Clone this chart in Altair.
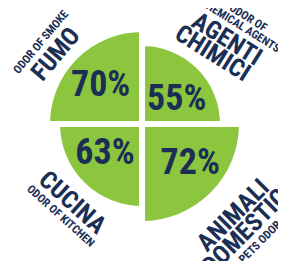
import math
import altair as alt
import pandas as pd

# ---------------- data ----------------
CATEGORIES = ["AGENTI CHIMICI", "ANIMALI DOMESTICI", "CUCINA", "FUMO"]
VALUES = [55, 72, 63, 70]
PCT_LABELS = ["55%", "72%", "63%", "70%"]
TITLE_LINES = [["AGENTI", "CHIMICI"], ["ANIMALI", "DOMESTICI"], ["CUCINA"], ["FUMO"]]
SUBTITLE_LINES = [["ODOR OF", "CHEMICAL AGENTS"], ["PETS ODOR"], ["ODOR OF KITCHEN"], ["ODOR OF SMOKE"]]

# ---------------- style ----------------
GREEN = "#8cc63f"
NAVY = "#1b2f55"
FONT = ("Noto Sans ExtraCondensed, Noto Sans Condensed, Roboto Condensed, "
        "Liberation Sans Narrow, DejaVu Sans Condensed, sans-serif")
GAP = 6                      # white gap between quarters
STROKE_HALF = GAP / 2
N = len(CATEGORIES)
STEP_DEG = 360 / N
BIG_SIZE, SMALL_SIZE, PCT_SIZE = 25, 11.5, 36
BIG_STEP, SMALL_STEP, BLOCK_GAP = 20, 11, 3
PCT_OFFSET = -35
LABEL_GAP = {"AGENTI CHIMICI": 12, "ANIMALI DOMESTICI": 22, "CUCINA": 13, "FUMO": 9}
LABEL_ANGLE = {"AGENTI CHIMICI": 32, "ANIMALI DOMESTICI": 315, "CUCINA": 42, "FUMO": 310}
LABEL_NUDGE = {"AGENTI CHIMICI": 0, "ANIMALI DOMESTICI": 0, "CUCINA": -3.5, "FUMO": -6}
PCT_NUDGE = {"AGENTI CHIMICI": 9, "ANIMALI DOMESTICI": -6, "CUCINA": 7, "FUMO": -1.5}

slices = pd.DataFrame({
    "category": CATEGORIES,
    "value": VALUES,
    "pct": PCT_LABELS,
    "idx": list(range(N)),
})
slices["tpos"] = [i + 0.5 + PCT_NUDGE[c] / STEP_DEG for i, c in enumerate(CATEGORIES)]

rows = []
for i, cat in enumerate(CATEGORIES):
    mid = math.radians((i + 0.5) * STEP_DEG)
    top = math.cos(mid) > 0
    big = list(reversed(TITLE_LINES[i])) if top else list(TITLE_LINES[i])
    small = list(reversed(SUBTITLE_LINES[i])) if top else list(SUBTITLE_LINES[i])
    cum = LABEL_GAP[cat]
    tpos = i + 0.5 + LABEL_NUDGE[cat] / STEP_DEG
    for line in big:
        rows.append({"category": cat, "value": VALUES[i], "text": line, "kind": "big",
                     "off": cum + BIG_STEP / 2 - STROKE_HALF, "tpos": tpos, "ang": LABEL_ANGLE[cat]})
        cum += BIG_STEP
    cum += BLOCK_GAP
    for line in small:
        rows.append({"category": cat, "value": VALUES[i], "text": line, "kind": "small",
                     "off": cum + SMALL_STEP / 2 - STROKE_HALF, "tpos": tpos, "ang": LABEL_ANGLE[cat]})
        cum += SMALL_STEP
labels = pd.DataFrame(rows)

radius_scale = alt.Scale(type="pow", exponent=10, zero=False,
                         domain=[min(VALUES), max(VALUES)], range=[81, 100])
theta_scale = alt.Scale(domain=[0, N])

arcs = alt.Chart(slices).transform_calculate(
    t0="datum.idx", t1="datum.idx + 1"
).mark_arc(
    fill=GREEN, stroke="white", strokeWidth=GAP
).encode(
    theta=alt.Theta("t0:Q", scale=theta_scale),
    theta2="t1:Q",
    radius=alt.Radius("value:Q", scale=radius_scale),
    radius2=alt.value(0),
)

pct = alt.Chart(slices).mark_text(
    font=FONT, fontWeight="bold", fontSize=PCT_SIZE, color=NAVY,
    align="center", baseline="middle", radiusOffset=PCT_OFFSET - STROKE_HALF,
).encode(
    theta=alt.Theta("tpos:Q", scale=theta_scale),
    radius=alt.Radius("value:Q", scale=radius_scale),
    text="pct:N",
)

def label_layer(kind, size):
    return alt.Chart(labels).transform_filter(alt.datum.kind == kind).mark_text(
        font=FONT, fontWeight="bold", fontSize=size, color=NAVY,
        align="center", baseline="middle", radiusOffset=alt.ExprRef(expr="datum.off"),
    ).encode(
        theta=alt.Theta("tpos:Q", scale=theta_scale),
        radius=alt.Radius("value:Q", scale=radius_scale),
        angle=alt.Angle("ang:Q", scale=None),
        text="text:N",
    )

chart = alt.layer(arcs, pct, label_layer("big", BIG_SIZE), label_layer("small", SMALL_SIZE)).properties(
    width=268, height=232,
    autosize=alt.AutoSizeParams(type="none"),
    padding={"left": 0, "top": 0, "right": 2, "bottom": 21},
).configure_view(stroke=None)

chart.save("out.html", embed_options={"renderer": "svg", "actions": False})
